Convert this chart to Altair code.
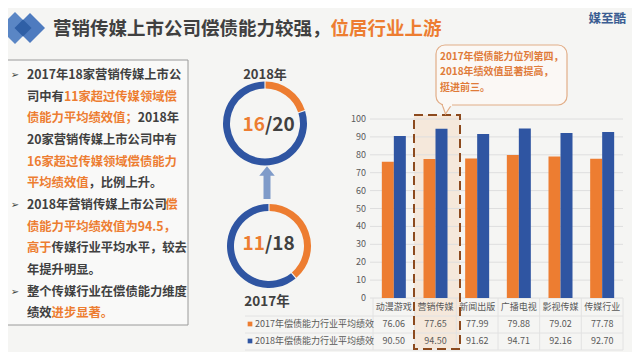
import altair as alt
import pandas as pd

# ---------------- data ----------------
categories = ["动漫游戏", "营销传媒", "新闻出版", "广播电视", "影视传媒", "传媒行业"]
series_names = ["2017年偿债能力行业平均绩效", "2018年偿债能力行业平均绩效"]
values_2017 = [76.06, 77.65, 77.99, 79.88, 79.02, 77.78]
values_2018 = [90.50, 94.50, 91.62, 94.71, 92.16, 92.70]
y_ticks = [0, 10, 20, 30, 40, 50, 60, 70, 80, 90, 100]

donut_2018_parts = [4, 16]   # orange remainder, blue count
donut_2017_parts = [7, 11]
donut_2018_label = ["16", "/20"]
donut_2017_label = ["11", "/18"]
year_labels = ["2018年", "2017年"]

title_parts = ["营销传媒上市公司偿债能力较强，", "位居行业上游"]
brand = "媒至酷"
callout_lines = ["2017年偿债能力位列第四，", "2018年绩效值显著提高，", "挺进前三。"]

# text box: each line is a list of (text, highlighted)
box_lines = [
    [("2017年18家营销传媒上市公", 0)],
    [("司中有", 0), ("11家超过传媒领域偿", 1)],
    [("债能力平均绩效值；", 1), ("2018年", 0)],
    [("20家营销传媒上市公司中有", 0)],
    [("16家超过传媒领域偿债能力", 1)],
    [("平均绩效值", 1), ("，比例上升。", 0)],
    [("2018年营销传媒上市公司", 0), ("偿", 1)],
    [("债能力平均绩效值为94.5，", 1)],
    [("高于", 1), ("传媒行业平均水平，较去", 0)],
    [("年提升明显。", 0)],
    [("整个传媒行业在偿债能力维度", 0)],
    [("绩效", 0), ("进步显著。", 1)],
]
bullet_rows = [0, 6, 10]

# ---------------- style ----------------
ORANGE = "#ed7d31"
BLUE = "#2f55a2"
DARK = "#404040"
GRAY = "#595959"
GRID = "#dedede"
BG = "#f5f5f3"
FONT = "Noto Sans CJK SC"


def P(v):
    return v - 8


def one():
    return pd.DataFrame({"a": [0]})


def T(text, x, y, size, color, weight="normal", align="left", font=FONT):
    return alt.Chart(pd.DataFrame({"t": [text]})).mark_text(
        align=align, baseline="middle", fontSize=size, fontWeight=weight,
        color=color, font=font
    ).encode(text="t:N", x=alt.value(P(x)), y=alt.value(P(y)))


def R(x1, y1, x2, y2, **kw):
    return alt.Chart(one()).mark_rect(**kw).encode(
        x=alt.value(P(x1)), x2=alt.value(P(x2)),
        y=alt.value(P(y1)), y2=alt.value(P(y2)))


def RULE(x1, y1, x2, y2, **kw):
    return alt.Chart(one()).mark_rule(**kw).encode(
        x=alt.value(P(x1)), x2=alt.value(P(x2)),
        y=alt.value(P(y1)), y2=alt.value(P(y2)))


def PT(x, y, **kw):
    return alt.Chart(one()).mark_point(**kw).encode(
        x=alt.value(P(x)), y=alt.value(P(y)))


def text_width(s, fs):
    w = 0.0
    for ch in s:
        if ch.isdigit():
            w += 0.56 * fs
        elif ch == ".":
            w += 0.28 * fs
        elif ord(ch) < 128:
            w += 0.55 * fs
        else:
            w += fs
    return w


layers = []

# ---- header ----
layers.append(PT(15, 28, shape="diamond", filled=True, size=1024, color="#5a86c5", opacity=1))
layers.append(PT(30, 28, shape="diamond", filled=True, size=900, color="#4e7bbf", opacity=1))
layers.append(PT(23, 28, shape="diamond", filled=True, size=289, color="#2f5fa6", opacity=1))
layers.append(T(title_parts[0], 53, 29, 18.5, DARK, "bold"))
layers.append(T(title_parts[1], 53 + text_width(title_parts[0], 18.5), 29, 18.5, ORANGE, "bold"))
layers.append(T(brand, 626, 19, 12.5, "#3b5d92", "bold", "right"))

# ---- left text box ----
layers.append(R(7, 60, 188, 325, fill="#f9f9f8", stroke="#9a9a9a", strokeWidth=1))
FS_BOX = 12.3
line_y0 = 75.0
line_dy = 21.67
for i, segs in enumerate(box_lines):
    y = line_y0 + i * line_dy
    x = 27.0
    for txt, hl in segs:
        layers.append(T(txt, x, y, FS_BOX, ORANGE if hl else DARK, "bold"))
        x += text_width(txt, FS_BOX)
for i in bullet_rows:
    layers.append(T("➢", 15, line_y0 + i * line_dy, 10, DARK, "normal", "center", "DejaVu Sans"))

# ---- donuts ----
def donut(parts, cx, cy):
    df = pd.DataFrame({"k": [0, 1], "v": parts, "c": ["o", "b"]})
    return alt.Chart(df).mark_arc(radius=42, radius2=35, padAngle=0.02).encode(
        theta=alt.Theta("v:Q", stack=True),
        order=alt.Order("k:Q"),
        color=alt.Color("c:N", scale=alt.Scale(domain=["o", "b"], range=[ORANGE, BLUE]), legend=None),
        x=alt.value(P(cx)), y=alt.value(P(cy)),
    )

layers.append(donut(donut_2018_parts, 265, 123.5))
layers.append(donut(donut_2017_parts, 269, 246))
layers.append(T(year_labels[0], 265, 75, 13, DARK, "bold", "center"))
layers.append(T(year_labels[1], 267, 302, 13.5, DARK, "bold", "center"))
layers.append(T(donut_2018_label[0], 265, 125, 19, ORANGE, "bold", "right"))
layers.append(T(donut_2018_label[1], 265, 125, 19, DARK, "bold", "left"))
layers.append(T(donut_2017_label[0], 265, 243.5, 19, ORANGE, "bold", "right"))
layers.append(T(donut_2017_label[1], 265, 243.5, 19, DARK, "bold", "left"))

# arrow
layers.append(RULE(267, 175, 267, 199, color="#7f9bc9", strokeWidth=7))
layers.append(PT(267, 171, shape="M0,-0.6L1,0.6L-1,0.6Z", filled=True, size=240,
                 color="#7f9bc9", opacity=1))

# ---- bar chart ----
xscale = alt.Scale(domain=categories, range=[P(373), P(623)], paddingInner=0.424, paddingOuter=0.212)
yscale = alt.Scale(domain=[0, 100], range=[P(298), P(119)], nice=False, zero=True)

# highlight box fill (under the bars)
layers.append(R(414, 115, 460, 349, fill="#f6c9a6", fillOpacity=0.3, strokeWidth=0))

df_ticks = pd.DataFrame({"tick": y_ticks})
layers.append(alt.Chart(df_ticks).mark_rule(color=GRID, strokeWidth=1).encode(
    y=alt.Y("tick:Q", scale=yscale, axis=None),
    x=alt.value(P(370)), x2=alt.value(P(623))))
layers.append(alt.Chart(df_ticks).mark_text(align="right", baseline="middle", fontSize=9,
                                            color=GRAY, font=FONT).encode(
    y=alt.Y("tick:Q", scale=yscale, axis=None),
    x=alt.value(P(366)), text="tick:Q"))

df_bars = pd.DataFrame({
    "category": categories * 2,
    "series": [series_names[0]] * len(categories) + [series_names[1]] * len(categories),
    "value": values_2017 + values_2018,
})
layers.append(alt.Chart(df_bars).mark_bar().encode(
    x=alt.X("category:N", sort=categories, scale=xscale, axis=None),
    xOffset=alt.XOffset("series:N", sort=series_names,
                        scale=alt.Scale(domain=series_names, paddingInner=0, paddingOuter=0)),
    y=alt.Y("value:Q", scale=yscale, axis=None),
    color=alt.Color("series:N", scale=alt.Scale(domain=series_names, range=[ORANGE, BLUE]), legend=None),
))

# data table grid
step = (623 - 373) / len(categories)
for yy in [316, 333, 350]:
    layers.append(RULE(245, yy, 623, yy, color="#e2e2e2", strokeWidth=1))
for i in range(len(categories) + 1):
    xx = 373 + i * step
    layers.append(RULE(xx, 298, xx, 350, color="#e2e2e2", strokeWidth=1))

# category labels
layers.append(alt.Chart(pd.DataFrame({"category": categories})).mark_text(
    baseline="middle", fontSize=9, color=GRAY, font=FONT).encode(
    x=alt.X("category:N", sort=categories, scale=xscale, axis=None, bandPosition=0.5),
    y=alt.value(P(307)), text="category:N"))

row_y = [324, 341]
for s, ry, col in zip(series_names, row_y, [ORANGE, BLUE]):
    layers.append(alt.Chart(df_bars[df_bars["series"] == s]).mark_text(
        baseline="middle", fontSize=9, color=GRAY, font=FONT).encode(
        x=alt.X("category:N", sort=categories, scale=xscale, axis=None, bandPosition=0.5),
        y=alt.value(P(ry)), text=alt.Text("value:Q", format=".2f")))
    layers.append(PT(250, ry, shape="square", filled=True, size=22, color=col, opacity=1))
    layers.append(T(s, 255, ry, 9, GRAY))

# highlight box outline
layers.append(R(414, 115, 460, 349, fillOpacity=0, stroke="#8c4a1e",
                strokeWidth=2, strokeDash=[9, 5]))

# callout bubble
layers.append(PT(447, 109, shape="M-1,-1L1,-1L-0.3,1Z", filled=True, size=100,
                 fill="#fbf8f5", stroke="#e2ae88", strokeWidth=1.2, opacity=1))
layers.append(R(436, 45, 567, 105, fill="#fbf8f5", stroke="#e2ae88", strokeWidth=1.2, cornerRadius=9))
layers.append(RULE(443, 105, 452, 105, color="#fbf8f5", strokeWidth=2.5))
for i, ln in enumerate(callout_lines):
    layers.append(T(ln, 440, 57 + i * 15.4, 10, "#e07b39", "bold"))

chart = alt.layer(*layers).properties(
    width=624, height=344, padding=0,
    autosize=alt.AutoSizeParams(type="none"),
    background=BG,
).resolve_scale(
    x="independent", y="independent", color="independent", theta="independent"
).configure_view(stroke=None)

chart.save("out.html", embed_options={"renderer": "svg", "actions": False})
